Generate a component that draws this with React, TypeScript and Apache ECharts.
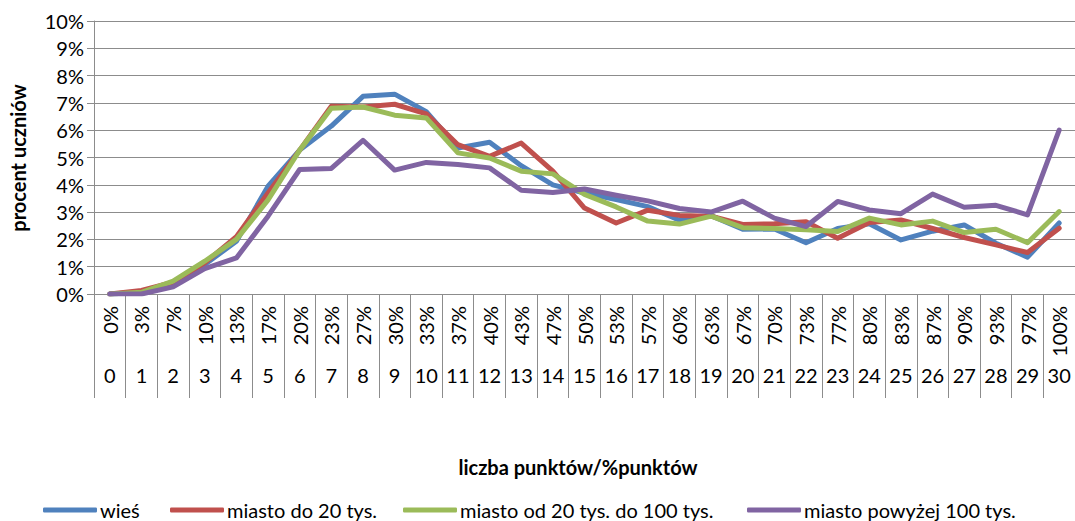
import React, { useEffect, useRef } from "react";
import * as echarts from "echarts";

const percentLabels = ["0%", "3%", "7%", "10%", "13%", "17%", "20%", "23%", "27%", "30%", "33%", "37%", "40%", "43%", "47%", "50%", "53%", "57%", "60%", "63%", "67%", "70%", "73%", "77%", "80%", "83%", "87%", "90%", "93%", "97%", "100%"];
const pointLabels = ["0", "1", "2", "3", "4", "5", "6", "7", "8", "9", "10", "11", "12", "13", "14", "15", "16", "17", "18", "19", "20", "21", "22", "23", "24", "25", "26", "27", "28", "29", "30"];

const seriesNames = ["wieś", "miasto do 20 tys.", "miasto od 20 tys. do 100 tys.", "miasto powyżej 100 tys."];

const wies = [0, 0.06, 0.4, 1.08, 1.93, 3.95, 5.27, 6.15, 7.24, 7.32, 6.68, 5.35, 5.56, 4.7, 4.0, 3.7, 3.46, 3.2, 2.7, 2.87, 2.37, 2.38, 1.88, 2.4, 2.57, 1.98, 2.3, 2.53, 1.86, 1.35, 2.6];
const miastoDo20 = [0, 0.13, 0.43, 1.14, 2.1, 3.7, 5.27, 6.88, 6.85, 6.95, 6.6, 5.47, 5.04, 5.53, 4.5, 3.15, 2.6, 3.07, 2.88, 2.85, 2.55, 2.57, 2.65, 2.04, 2.62, 2.71, 2.4, 2.07, 1.8, 1.52, 2.41];
const miasto20do100 = [0, 0.06, 0.47, 1.2, 2.0, 3.45, 5.27, 6.8, 6.85, 6.55, 6.45, 5.17, 4.98, 4.5, 4.4, 3.65, 3.19, 2.67, 2.56, 2.85, 2.43, 2.4, 2.35, 2.29, 2.78, 2.53, 2.67, 2.25, 2.37, 1.88, 3.02];
const miastoPow100 = [0, 0, 0.26, 0.93, 1.32, 2.85, 4.56, 4.6, 5.63, 4.54, 4.82, 4.74, 4.62, 3.8, 3.72, 3.85, 3.62, 3.41, 3.13, 3.0, 3.4, 2.78, 2.47, 3.39, 3.08, 2.94, 3.66, 3.18, 3.25, 2.9, 6.0];

const colors = ["#4F81BD", "#C0504D", "#9BBB59", "#8064A2"];
const FONT = "Lato, 'Noto Sans', sans-serif";

export default function App() {
  const ref = useRef<HTMLDivElement>(null);
  useEffect(() => {
    if (!ref.current) return;
    const chart = echarts.init(ref.current, null, { renderer: "svg" });
    const values = [wies, miastoDo20, miasto20do100, miastoPow100];
    const legendLefts = [43, 170, 403, 747];
    const gray = "#8c8c8c";
    chart.setOption({
      animation: false,
      backgroundColor: "#ffffff",
      textStyle: { fontFamily: FONT },
      grid: { left: 94, top: 21, width: 982, height: 273, containLabel: false },
      xAxis: [
        {
          type: "category",
          data: percentLabels,
          boundaryGap: true,
          axisLine: { show: true, lineStyle: { color: gray, width: 1 } },
          axisTick: { show: true, interval: 0, length: 104, lineStyle: { color: gray, width: 1 } },
          axisLabel: { interval: 0, rotate: 90, margin: 12, fontSize: 20, color: "#000", fontFamily: FONT },
          splitLine: { show: false },
        },
        {
          type: "category",
          data: pointLabels,
          position: "bottom",
          boundaryGap: true,
          axisLine: { show: false },
          axisTick: { show: false },
          axisLabel: { interval: 0, margin: 71, fontSize: 20, color: "#000", fontFamily: FONT },
          splitLine: { show: false },
        },
      ],
      yAxis: {
        type: "value",
        min: 0,
        max: 10,
        interval: 1,
        axisLine: { show: true, lineStyle: { color: gray, width: 1 } },
        axisTick: { show: true, length: 7, lineStyle: { color: gray, width: 1 } },
        axisLabel: { formatter: "{value}%", margin: 10, fontSize: 20, color: "#000", fontFamily: FONT },
        splitLine: { show: true, lineStyle: { color: gray, width: 1.2 } },
      },
      legend: seriesNames.map((name, i) => ({
        data: [name],
        left: legendLefts[i],
        top: 500,
        icon: "roundRect",
        itemWidth: 54,
        itemHeight: 5,
        padding: 0,
        textStyle: { fontSize: 20, color: "#000", fontFamily: FONT, padding: [0, 0, 0, -2] },
      })),
      graphic: [
        {
          type: "text",
          x: 18,
          y: 158,
          rotation: Math.PI / 2,
          style: { text: "procent uczniów", font: `bold 20px ${FONT}`, fill: "#000", textAlign: "center", textVerticalAlign: "middle" },
        },
        {
          type: "text",
          x: 578,
          y: 467,
          style: { text: "liczba punktów/%punktów", font: `bold 20px ${FONT}`, fill: "#000", textAlign: "center", textVerticalAlign: "middle" },
        },
      ],
      series: seriesNames.map((name, i) => ({
        name,
        type: "line",
        data: values[i],
        xAxisIndex: 0,
        symbol: "none",
        smooth: false,
        color: colors[i],
        itemStyle: { color: colors[i] },
        lineStyle: { color: colors[i], width: 5, cap: "round", join: "round" },
      })),
    });
    return () => chart.dispose();
  }, []);
  return <div ref={ref} style={{ position: "fixed", left: 0, top: 0, width: 1075, height: 521 }} />;
}
